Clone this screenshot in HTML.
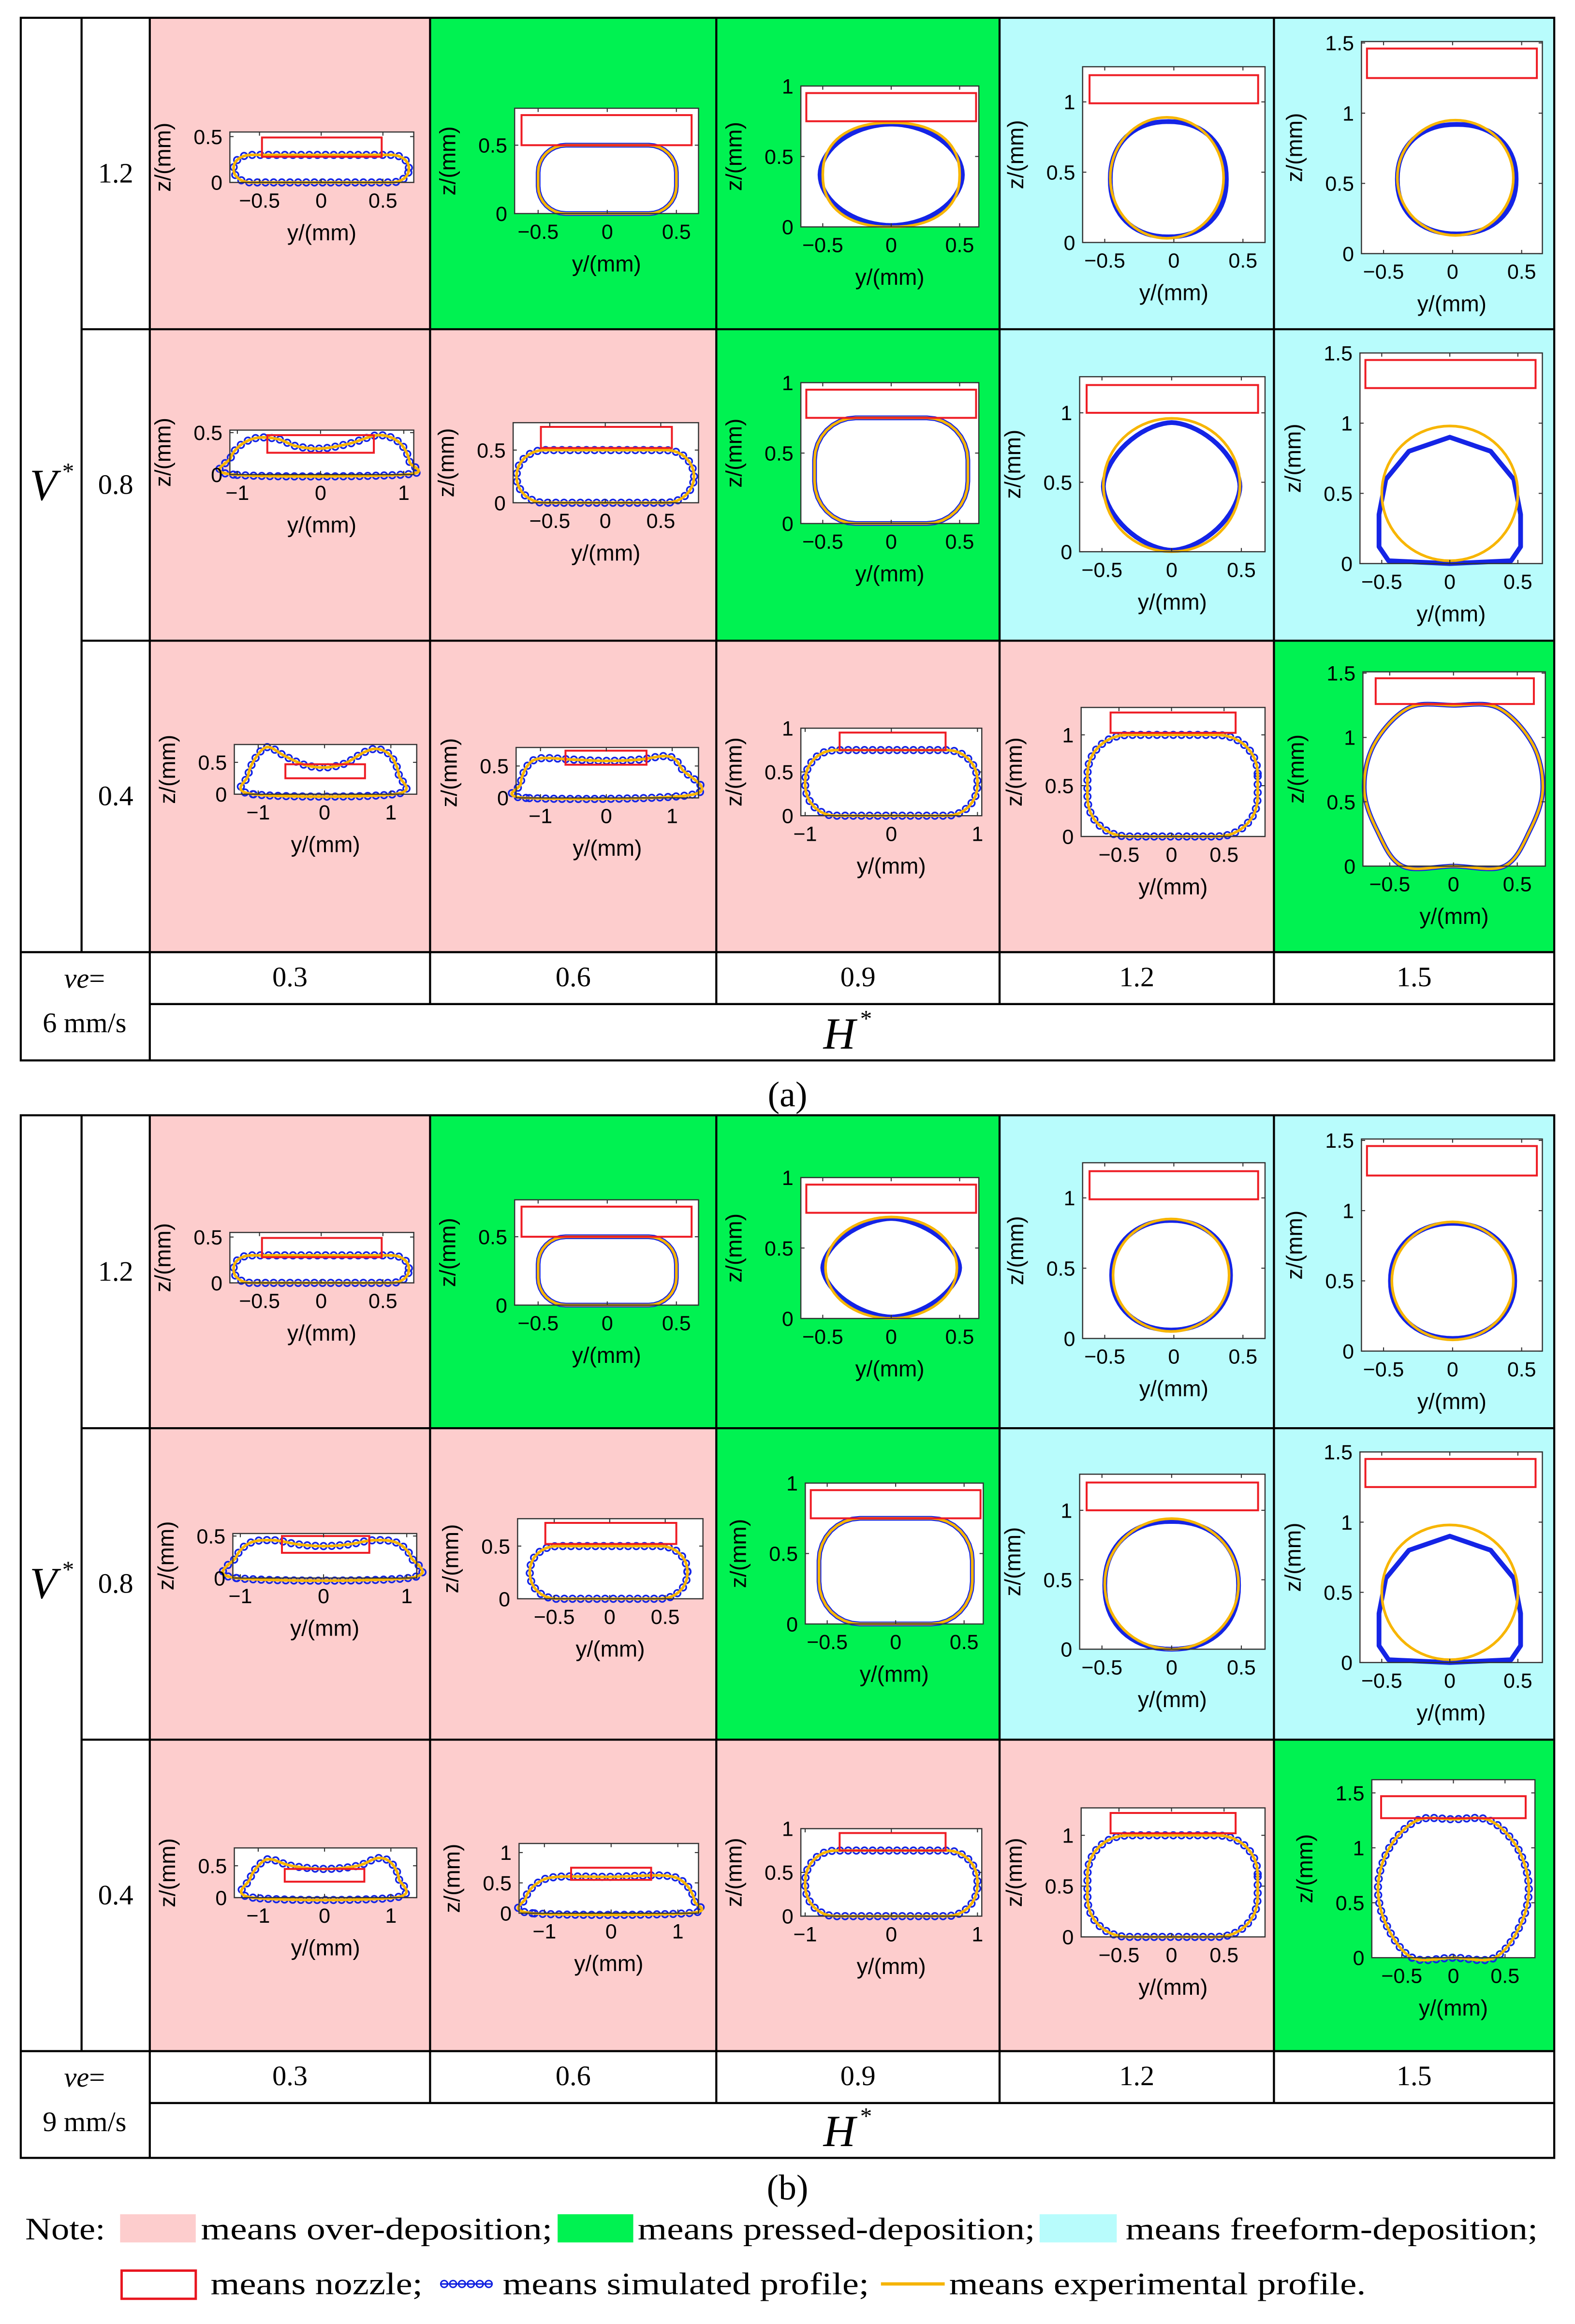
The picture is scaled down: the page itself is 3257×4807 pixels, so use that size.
<!DOCTYPE html>
<html><head><meta charset="utf-8">
<style>
html,body{margin:0;padding:0;background:#fff;}
svg{display:block;}
.serif{font-family:"Liberation Serif",serif;}
.sans{font-family:"Liberation Sans",sans-serif;}
</style></head>
<body>
<svg id="s" xmlns="http://www.w3.org/2000/svg" width="3257" height="4807" viewBox="0 0 1062 1567" preserveAspectRatio="none">
<rect x="0" y="0" width="1062" height="1567" fill="#fff"/>
<g id="bg"></g>
<g id="plots"></g>
<g id="grid" stroke="#000" stroke-width="1.4" fill="none"></g>
<g id="txt" class="serif" fill="#000"></g>
</svg>
<script>
var NS="http://www.w3.org/2000/svg";
function el(tag,attrs,parent,text){var e=document.createElementNS(NS,tag);for(var k in attrs)e.setAttribute(k,attrs[k]);if(text!==undefined)e.textContent=text;parent.appendChild(e);return e;}
var bg=document.getElementById('bg'),plots=document.getElementById('plots'),grid=document.getElementById('grid'),txt=document.getElementById('txt');
var PINK="#fdcdcd",GREEN="#00f251",CYAN="#b8fcfc";
var colX=[101,290,483,674,859,1048];
var pat=[[PINK,GREEN,GREEN,CYAN,CYAN],[PINK,PINK,GREEN,CYAN,CYAN],[PINK,PINK,PINK,PINK,GREEN]];
function table(top,rows,vy,hy,bot,ve,lbl,lbly){
  for(var r=0;r<3;r++)for(var c=0;c<5;c++){
    el('rect',{x:colX[c],y:rows[r],width:colX[c+1]-colX[c],height:rows[r+1]-rows[r],fill:pat[r][c]},bg);
  }
  el('rect',{x:14,y:top,width:1034,height:bot-top},grid);
  el('line',{x1:55,y1:top,x2:55,y2:rows[3]},grid);
  el('line',{x1:101,y1:top,x2:101,y2:bot},grid);
  for(var c=1;c<5;c++)el('line',{x1:colX[c],y1:top,x2:colX[c],y2:vy+18},grid);
  el('line',{x1:55,y1:rows[1],x2:1048,y2:rows[1]},grid);
  el('line',{x1:55,y1:rows[2],x2:1048,y2:rows[2]},grid);
  el('line',{x1:14,y1:rows[3],x2:1048,y2:rows[3]},grid);
  el('line',{x1:101,y1:vy+18,x2:1048,y2:vy+18},grid);
  var vmid=(rows[0]+rows[3])/2;
  el('text',{x:20,y:vmid+10,'font-size':30,'font-style':'italic'},txt,'V');
  el('text',{x:42,y:vmid-4,'font-size':16},txt,'*');
  var rl=['1.2','0.8','0.4'];
  for(var r=0;r<3;r++)el('text',{x:78,y:(rows[r]+rows[r+1])/2+6,'font-size':19,'text-anchor':'middle'},txt,rl[r]);
  var vals=['0.3','0.6','0.9','1.2','1.5'];
  for(var c=0;c<5;c++)el('text',{x:(colX[c]+colX[c+1])/2,y:vy+6,'font-size':19,'text-anchor':'middle'},txt,vals[c]);
  var t1=el('text',{x:57,y:vy+7,'font-size':19,'text-anchor':'middle'},txt);
  el('tspan',{'font-style':'italic'},t1,'ve');el('tspan',{},t1,'=');
  el('text',{x:57,y:vy+37,'font-size':19,'text-anchor':'middle'},txt,ve);
  el('text',{x:566,y:hy+10,'font-size':30,'font-style':'italic','text-anchor':'middle'},txt,'H');
  el('text',{x:580,y:hy-5,'font-size':16},txt,'*');
  el('text',{x:531,y:lbly+8,'font-size':24,'text-anchor':'middle'},txt,lbl);
}
table(12,[12,222,432,642],659,697,715,'6 mm/s','(a)',738);
table(752,[752,963,1173,1383],1400,1437,1455,'9 mm/s','(b)',1475);

// legend
function lt(x,y,w,s){el('text',{x:x,y:y,'font-size':21,textLength:w,lengthAdjust:'spacingAndGlyphs'},txt,s);}
lt(17,1510,54,'Note:');
el('rect',{x:81,y:1493,width:51,height:19,fill:PINK},bg);
lt(135.5,1510,237,'means over-deposition;');
el('rect',{x:376,y:1493,width:51,height:19,fill:GREEN},bg);
lt(430,1510,268,'means pressed-deposition;');
el('rect',{x:701,y:1493,width:52,height:19,fill:CYAN},bg);
lt(759,1510,278,'means freeform-deposition;');
el('rect',{x:82,y:1531,width:50,height:19,fill:'none',stroke:'#e8141e','stroke-width':1.6},bg);
lt(142,1547,143,'means nozzle;');
el('line',{x1:297,y1:1540,x2:332,y2:1540,stroke:'#1020e0','stroke-width':1},bg);
for(var i=0;i<6;i++)el('circle',{cx:299.5+i*6,cy:1540,r:2.3,fill:'none',stroke:'#1020e0','stroke-width':1},bg);
lt(339,1547,247,'means simulated profile;');
el('line',{x1:594,y1:1540,x2:637,y2:1540,stroke:'#f5b400','stroke-width':2.2},bg);
lt(640,1547,281,'means experimental profile.');

function se(cx,cz,rx,rz,n){var p=[];for(var i=0;i<72;i++){var a=i/72*2*Math.PI,c=Math.cos(a),s=Math.sin(a);p.push([cx+rx*Math.sign(c)*Math.pow(Math.abs(c),2/n),cz+rz*Math.sign(s)*Math.pow(Math.abs(s),2/n)]);}return p;}
function rr(x1,x2,z1,z2,r){var p=[];var cs=[[x2-r,z2-r,0],[x1+r,z2-r,90],[x1+r,z1+r,180],[x2-r,z1+r,270]];
  for(var k=0;k<4;k++){for(var i=0;i<=8;i++){var a=(cs[k][2]+i*90/8)*Math.PI/180;p.push([cs[k][0]+r*Math.cos(a),cs[k][1]+r*Math.sin(a)]);}}return p;}
function crPath(pts){
  var n=pts.length,d='M'+pts[0][0].toFixed(2)+','+pts[0][1].toFixed(2);
  for(var i=0;i<n;i++){var p0=pts[(i-1+n)%n],p1=pts[i],p2=pts[(i+1)%n],p3=pts[(i+2)%n];
    var c1=[p1[0]+(p2[0]-p0[0])/6,p1[1]+(p2[1]-p0[1])/6],c2=[p2[0]-(p3[0]-p1[0])/6,p2[1]-(p3[1]-p1[1])/6];
    d+='C'+c1[0].toFixed(2)+','+c1[1].toFixed(2)+' '+c2[0].toFixed(2)+','+c2[1].toFixed(2)+' '+p2[0].toFixed(2)+','+p2[1].toFixed(2);}
  return d+'Z';}
function lnPath(pts){var d='';pts.forEach(function(p,i){d+=(i?'L':'M')+p[0].toFixed(2)+','+p[1].toFixed(2);});return d+'Z';}
function fmt(v){var s=String(Math.abs(v));return (v<0?'\u2212':'')+s;}

function plot(P){
  var L=P[0],T=P[1],R=P[2],B=P[3],xmin=P[4],xmax=P[5],zmax=P[6],xt=P[7],zt=P[8],noz=P[9],prof=P[10],dots=P[11],bprof=P[12];
  var sx=(R-L)/(xmax-xmin),sz=(B-T)/zmax;
  function X(x){return L+(x-xmin)*sx;} function Z(z){return B-z*sz;}
  var g=el('g',{},plots);
  el('rect',{x:L,y:T,width:R-L,height:B-T,fill:'#fff'},g);
  var sh=function(pr){var pts;
    if(pr[0]=='se')pts=se(pr[1],pr[2],pr[3],pr[4],pr[5]);
    else if(pr[0]=='rr')pts=rr(pr[1],pr[2],pr[3],pr[4],pr[5]);
    else pts=pr[1];
    return pts.map(function(p){return [X(p[0]),Z(p[1])];});};
  var pts=sh(prof),smooth=(prof[0]=='poly');
  var bpts=bprof?sh(bprof):pts;
  var bd=(bprof?(bprof[0]=='poly'):smooth)?crPath(bpts):lnPath(bpts);
  var yd=smooth?crPath(pts):lnPath(pts);
  var blue='#1424e6';
  if(dots){
    el('path',{d:bd,fill:'none',stroke:blue,'stroke-width':1.2},g);
    var tmp=el('path',{d:bd},g);var len=tmp.getTotalLength();
    for(var s=0;s<len;s+=5.5){var q=tmp.getPointAtLength(s);el('circle',{cx:q.x,cy:q.y,r:2.2,fill:'none',stroke:blue,'stroke-width':1.1},g);}
    g.removeChild(tmp);
  } else {
    el('path',{d:bd,fill:'none',stroke:blue,'stroke-width':3.2,'stroke-linejoin':'round'},g);
  }
  el('path',{d:yd,fill:'none',stroke:'#f7b500','stroke-width':1.8,'stroke-linejoin':'round'},g);
  el('rect',{x:X(noz[0]),y:Z(noz[3]),width:X(noz[1])-X(noz[0]),height:Z(noz[2])-Z(noz[3]),fill:'none',stroke:'#ee1c24','stroke-width':1.3},g);
  el('rect',{x:L,y:T,width:R-L,height:B-T,fill:'none',stroke:'#333','stroke-width':0.8},g);
  xt.forEach(function(v){var x=X(v);el('line',{x1:x,y1:B,x2:x,y2:B-2.5,stroke:'#333','stroke-width':0.7},g);el('line',{x1:x,y1:T,x2:x,y2:T+2.5,stroke:'#333','stroke-width':0.7},g);
    el('text',{x:x,y:B+17,'font-size':14,'text-anchor':'middle','class':'sans'},g,fmt(v));});
  zt.forEach(function(v){var z=Z(v);el('line',{x1:L,y1:z,x2:L+2.5,y2:z,stroke:'#333','stroke-width':0.7},g);el('line',{x1:R,y1:z,x2:R-2.5,y2:z,stroke:'#333','stroke-width':0.7},g);
    el('text',{x:L-5,y:z+5,'font-size':14,'text-anchor':'end','class':'sans'},g,fmt(v));});
  var cx=(L+R)/2;
  el('text',{x:cx,y:B+39,'font-size':15,'text-anchor':'middle','class':'sans'},g,'y/(mm)');
  var zx=L-(zt.some(function(v){return String(v).length>1;})?34:24)-6,zy=(T+B)/2;
  el('text',{x:zx,y:zy,'font-size':15,'text-anchor':'middle','class':'sans',transform:'rotate(-90 '+zx+' '+zy+')'},g,'z/(mm)');
}
var X5=[-0.5,0,0.5],X1=[-1,0,1],Z05=[0,0.5],Z1=[0,0.5,1],Z15=[0,0.5,1,1.5];
var polyA=['poly',[[-1.05,0.0],[-1.08,0.2],[-0.95,0.36],[-0.75,0.44],[-0.5,0.42],[-0.3,0.34],[0,0.31],[0.35,0.37],[0.7,0.47],[0.95,0.38],[1.07,0.15],[1.0,0.0]]];
var polyB=['poly',[[-1.08,0],[-1.15,0.3],[-1.02,0.6],[-0.85,0.74],[-0.6,0.6],[-0.3,0.46],[0,0.42],[0.3,0.48],[0.6,0.66],[0.8,0.71],[1.0,0.6],[1.12,0.3],[1.05,0]]];
var polyC=['poly',[[-1.22,0],[-1.3,0.22],[-1.2,0.5],[-1.0,0.62],[-0.5,0.6],[0,0.58],[0.5,0.6],[0.95,0.65],[1.15,0.45],[1.3,0.05]]];
var polyD=['poly',[[-0.4,0],[0,0],[0.4,0],[0.6,0.28],[0.7,0.6],[0.62,0.95],[0.35,1.23],[0,1.25],[-0.35,1.23],[-0.62,0.95],[-0.7,0.6],[-0.6,0.28]]];
var trap=['line',[[-0.45,0.02],[0,0.0],[0.45,0.02],[0.52,0.12],[0.52,0.35],[0.47,0.6],[0.3,0.8],[0,0.9],[-0.3,0.8],[-0.47,0.6],[-0.52,0.35],[-0.52,0.12]]];
var A=[
 [155,89,279,123,-0.74,0.75,0.55,X5,Z05,[-0.48,0.49,0.28,0.49],['rr',-0.71,0.71,0,0.3,0.14],1],
 [347,73,471,144,-0.67,0.66,0.77,X5,Z05,[-0.62,0.61,0.5,0.72],['rr',-0.5,0.5,0,0.5,0.2],0],
 [540,58,660,153,-0.66,0.64,1.0,X5,Z1,[-0.62,0.62,0.75,0.95],['se',0,0.37,0.5,0.37,2.3],0,['se',0,0.37,0.52,0.36,1.9]],
 [730,45,853,163.5,-0.66,0.66,1.25,X5,Z1,[-0.61,0.61,0.99,1.19],['se',-0.05,0.46,0.41,0.43,2],0,['se',-0.04,0.45,0.42,0.41,2.2]],
 [918,28,1040,171,-0.66,0.65,1.51,X5,Z15,[-0.62,0.61,1.25,1.46],['se',0.02,0.54,0.42,0.41,2],0,['se',0.03,0.53,0.43,0.39,2.2]],
 [155,290,279,320,-1.09,1.12,0.53,X1,Z05,[-0.64,0.64,0.26,0.47],polyA,1],
 [346,285,471,339,-0.83,0.84,0.76,X5,Z05,[-0.58,0.6,0.52,0.72],['rr',-0.8,0.8,0,0.5,0.25],1],
 [540,258,660,353,-0.66,0.64,1.0,X5,Z1,[-0.62,0.62,0.75,0.95],['rr',-0.56,0.56,0,0.75,0.3],0],
 [728,254,853,372,-0.66,0.67,1.26,X5,Z1,[-0.61,0.62,1.0,1.2],['se',0,0.48,0.49,0.48,2],0,['se',0,0.47,0.49,0.46,1.7]],
 [917,238,1040,380,-0.66,0.68,1.5,X5,Z15,[-0.62,0.63,1.25,1.45],['se',0,0.5,0.5,0.48,2],0,trap],
 [158,502,281,535.5,-1.36,1.39,0.78,X1,Z05,[-0.59,0.61,0.25,0.47],polyB,1],
 [348,504,471,538,-1.37,1.4,0.79,X1,Z05,[-0.62,0.61,0.52,0.74],polyC,1],
 [540,491,662,550,-1.05,1.05,1.0,X1,Z1,[-0.6,0.63,0.75,0.95],['rr',-1.0,1.0,0,0.75,0.35],1],
 [729,477,853,564,-0.86,0.89,1.27,X5,Z1,[-0.58,0.61,1.02,1.22],['rr',-0.8,0.82,0,1.0,0.38],1],
 [919,453,1042,584,-0.71,0.72,1.51,X5,Z15,[-0.61,0.63,1.26,1.46],polyD,0]
];
A.forEach(plot);
function sh(p,dy,dx){var q=p.slice();q[1]+=dy;q[3]+=dy;if(dx){q[0]+=dx;q[2]+=dx;}return q;}
var polyA2=['poly',[[-1.05,0],[-1.05,0.25],[-0.88,0.42],[-0.6,0.45],[-0.3,0.4],[0,0.38],[0.3,0.4],[0.6,0.45],[0.88,0.42],[1.05,0.25],[1.02,0]]];
var polyB2=['poly',[[-1.08,0],[-1.12,0.3],[-0.95,0.55],[-0.8,0.6],[-0.5,0.5],[0,0.45],[0.5,0.5],[0.8,0.62],[1.0,0.55],[1.12,0.3],[1.05,0]]];
var polyC2=['poly',[[-1.18,0],[-1.28,0.25],[-1.1,0.5],[-0.8,0.6],[0,0.6],[0.8,0.62],[1.1,0.5],[1.25,0.2],[1.15,0]]];
var polyE=['poly',[[-0.4,0],[0,0],[0.4,0],[0.65,0.3],[0.73,0.65],[0.62,1.0],[0.35,1.25],[0,1.26],[-0.35,1.25],[-0.62,1.0],[-0.73,0.65],[-0.65,0.3]]];
var Bp=[
 sh(A[0],742),
 sh(A[1],736),
 (function(){var q=sh(A[2],736);q[10]=['se',0,0.36,0.48,0.36,2];q[12]=['se',0,0.36,0.5,0.35,1.7];return q;})(),
 (function(){var q=sh(A[3],739);q[10]=['se',-0.02,0.45,0.42,0.4,2];q[12]=['se',-0.02,0.45,0.43,0.39,2.1];return q;})(),
 (function(){var q=sh(A[4],740);q[10]=['se',0,0.5,0.44,0.42,2];q[12]=['se',0,0.5,0.45,0.41,2.1];return q;})(),
 (function(){var q=sh(A[5],744,2);q[9]=[-0.5,0.55,0.3,0.5];q[10]=polyA2;return q;})(),
 (function(){var q=sh(A[6],739,3);q[10]=['rr',-0.72,0.7,0,0.5,0.24];return q;})(),
 sh(A[7],742,3),
 (function(){var q=sh(A[8],740);q[10]=['se',0,0.47,0.48,0.47,2];q[12]=['se',0,0.46,0.48,0.46,2.2];return q;})(),
 sh(A[9],741),
 (function(){var q=sh(A[10],744);q[9]=[-0.6,0.6,0.25,0.45];q[10]=polyB2;return q;})(),
 [350,1243,471,1290,-1.38,1.31,1.15,X1,Z1,[-0.6,0.6,0.55,0.75],polyC2,1],
 sh(A[12],742),
 sh(A[13],742),
 [925,1200,1035,1320,-0.79,0.79,1.62,X5,Z15,[-0.7,0.7,1.27,1.47],polyE,1]
];
Bp.forEach(plot);
</script>
</body></html>
